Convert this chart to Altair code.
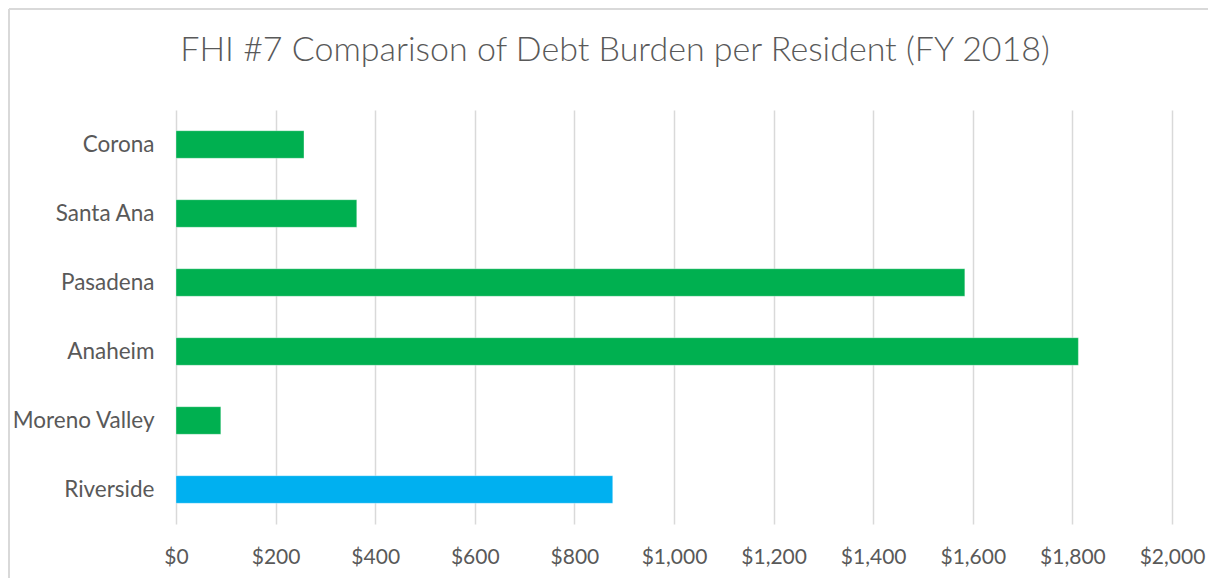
import altair as alt
import pandas as pd

cities = ["Corona", "Santa Ana", "Pasadena ", "Anaheim", "Moreno Valley", "Riverside"]
debt_per_resident = [257, 363, 1584, 1812, 90, 877]
group = ["Peer", "Peer", "Peer", "Peer", "Peer", "Riverside"]

df = pd.DataFrame({"city": cities, "debt": debt_per_resident, "group": group})

FONT = "Lato"
GRAY = "#595959"

bars = alt.Chart(df).mark_bar(stroke="#ffffff", strokeOpacity=0.35, strokeWidth=1).encode(
    y=alt.Y("city:N", sort=cities, title=None,
            scale=alt.Scale(paddingInner=0.6, paddingOuter=0.3),
            axis=alt.Axis(labelFont=FONT, labelFontSize=22.5, labelColor=GRAY,
                          labelPadding=22, ticks=False, domain=False, grid=False)),
    x=alt.X("debt:Q", title=None,
            scale=alt.Scale(domain=[0, 2000], nice=False),
            axis=alt.Axis(values=list(range(0, 2001, 200)), format="$,.0f",
                          labelFont=FONT, labelFontSize=21, labelColor=GRAY,
                          labelPadding=22, labelFlush=False, labelOverlap=False,
                          ticks=False, domain=False,
                          grid=True, gridColor="#d9d9d9", gridWidth=1.5)),
    color=alt.Color("group:N", scale=alt.Scale(domain=["Peer", "Riverside"],
                                               range=["#00B050", "#00B0F0"]),
                    legend=None),
)

frame = pd.DataFrame({"a": [0]})
left_border = alt.Chart(frame).mark_rule(color="#d9d9d9", strokeWidth=2).encode(
    x=alt.value(-167), y=alt.value(-101), y2=alt.value(470))
top_border = alt.Chart(frame).mark_rule(color="#d9d9d9", strokeWidth=2).encode(
    x=alt.value(-167), x2=alt.value(1040), y=alt.value(-101))

chart = alt.layer(bars, left_border, top_border).properties(
    width=996, height=414,
    autosize=alt.AutoSizeParams(type="none"),
    padding={"left": 168, "top": 102, "right": 36, "bottom": 54},
    title=alt.TitleParams("FHI #7 Comparison of Debt Burden per Resident (FY 2018)",
                          font=FONT, fontSize=34, fontWeight=300, color=GRAY,
                          anchor="middle", frame="group", baseline="alphabetic",
                          dx=-59, offset=-87),
).configure_view(stroke=None)

chart.save("out.html", embed_options={"renderer": "svg", "actions": False})
